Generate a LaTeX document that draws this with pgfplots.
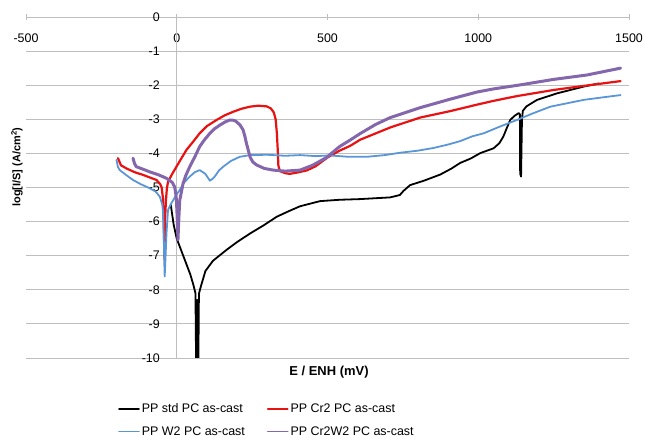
\documentclass[border=0pt]{standalone}
\usepackage{pgfplots}
\pgfplotsset{compat=1.18}
\usepackage{fontspec}
\setmainfont{Liberation Sans}
\definecolor{myred}{RGB}{232,18,18}
\definecolor{myblue}{RGB}{90,150,215}
\definecolor{mypurple}{RGB}{132,102,172}
\definecolor{gridgray}{RGB}{190,190,190}
\begin{document}
\begin{tikzpicture}
\path[use as bounding box] (0,0) rectangle (645bp,438bp);
\begin{axis}[
  at={(26bp,80bp)}, anchor=south west,
  scale only axis, width=603bp, height=341bp,
  xmin=-500, xmax=1500, ymin=-10, ymax=0,
  axis line style={draw=none},
  xtick={-500,0,500,1000,1500},
  xticklabels={-500,0,500,1000,1500},
  ytick={-10,-9,-8,-7,-6,-5,-4,-3,-2,-1,0},
  yticklabels={-10,-9,-8,-7,-6,-5,-4,-3,-2,-1,0},
  xtick pos=right, xticklabel pos=right,
  ytick pos=left,
  tick align=center, major tick length=6bp,
  xtick style={draw=gridgray, line width=0.8bp},
  ytick style={draw=none},
  xticklabel style={anchor=north, yshift=-20bp, inner sep=0pt, font=\fontsize{12.5}{14}\selectfont},
  yticklabel style={anchor=east, inner sep=0pt, xshift=137bp, font=\fontsize{12.5}{14}\selectfont},
  ymajorgrids, grid style={gridgray, line width=0.8bp},
  extra x ticks={0}, extra x tick labels={},
  extra x tick style={grid=major, major tick length=0pt},
  legend columns=2,
  legend cell align=left,
  legend style={draw=none, fill=none, at={(0.1526,-0.128)}, anchor=north west,
    font=\fontsize{12.5}{14}\selectfont, inner sep=0pt, row sep=8bp,
    /tikz/every even column/.append style={column sep=20bp}},
  legend image code/.code={\draw[#1, line width=1.6bp] (0bp,0bp) -- (20bp,0bp);},
  every axis plot/.append style={line join=round, line cap=round},
]
% PP std PC as-cast
\addplot[black, line width=1.8bp] coordinates {
(-20,-5.5) (-10,-6.1) (0,-6.5) (15,-6.85) (30,-7.2) (45,-7.55) (55,-7.85) (62,-8.1)
(63,-9) (64,-10) (65,-8.3) (66,-10) (67,-8.3) (68,-10) (69,-8.3) (70,-10) (71,-8.3)
(72,-10) (73,-8.5) (74,-8.1) (80,-7.9)
(95,-7.45) (120,-7.15) (165,-6.83) (200,-6.6) (243,-6.35) (290,-6.1) (331,-5.86)
(370,-5.7) (409,-5.55) (475,-5.4) (540,-5.36) (608,-5.34) (708,-5.29) (740,-5.22)
(752,-5.1) (774,-4.93) (820,-4.8) (874,-4.62) (910,-4.45) (940,-4.28) (975,-4.15)
(1007,-3.99) (1051,-3.85) (1070,-3.7) (1083,-3.51) (1095,-3.25) (1106,-3.02)
(1120,-2.9) (1134,-2.82) (1138,-2.85) (1139,-4.6) (1142,-4.68) (1145,-3.0)
(1148,-2.75) (1160,-2.62) (1195,-2.43) (1261,-2.24) (1350,-2.04) (1400,-1.95)
};
\addlegendentry{PP std PC as-cast}
% PP Cr2 PC as-cast
\addplot[myred, line width=2.2bp] coordinates {
(-195,-4.14) (-185,-4.35) (-167,-4.44) (-140,-4.55) (-112,-4.63) (-85,-4.72)
(-67,-4.78) (-55,-4.9) (-50,-5.0) (-46,-5.3) (-44,-5.8) (-42,-6.5) (-41,-7.1)
(-39,-6.0) (-36,-5.4) (-33,-5.05) (-29,-4.83) (-15,-4.6) (-1,-4.39) (15,-4.15)
(32,-3.9) (55,-3.65) (76,-3.41) (100,-3.2) (132,-3.02) (160,-2.88) (187,-2.78)
(215,-2.69) (243,-2.63) (270,-2.6) (298,-2.62) (312,-2.68) (322,-2.8) (328,-3.0)
(332,-3.4) (335,-3.9) (337,-4.35) (342,-4.52) (360,-4.58) (375,-4.6) (400,-4.56)
(431,-4.5) (460,-4.38) (500,-4.12) (540,-3.92) (575,-3.78) (608,-3.6) (708,-3.24)
(807,-2.95) (907,-2.76) (996,-2.57) (1050,-2.46) (1128,-2.32) (1250,-2.14)
(1350,-2.02) (1472,-1.88)
};
\addlegendentry{PP Cr2 PC as-cast}
% PP W2 PC as-cast
\addplot[myblue, line width=1.8bp] coordinates {
(-200,-4.19) (-195,-4.4) (-189,-4.49) (-170,-4.62) (-145,-4.78) (-120,-4.9)
(-90,-5.02) (-70,-5.12) (-56,-5.27) (-48,-5.5) (-45,-5.76) (-43,-6.5) (-41,-7.3)
(-40,-7.61) (-37,-7.0) (-34,-6.34) (-29,-5.66) (-18,-5.46) (0,-5.2) (10,-5.07)
(25,-4.85) (43,-4.68) (60,-4.55) (76,-4.49) (95,-4.6) (110,-4.8) (118,-4.75)
(126,-4.68) (140,-4.5) (154,-4.39) (180,-4.22) (209,-4.1) (243,-4.05) (300,-4.04)
(360,-4.07) (409,-4.05) (460,-4.08) (508,-4.06) (570,-4.1) (630,-4.1) (690,-4.05)
(741,-3.98) (800,-3.92) (852,-3.84) (900,-3.74) (940,-3.64) (980,-3.5) (1018,-3.41)
(1070,-3.22) (1128,-3.02) (1180,-2.83) (1239,-2.63) (1300,-2.52) (1350,-2.43)
(1410,-2.36) (1472,-2.29)
};
\addlegendentry{PP W2 PC as-cast}
% PP Cr2W2 PC as-cast
\addplot[mypurple, line width=3bp] coordinates {
(-145,-4.14) (-140,-4.3) (-134,-4.39) (-110,-4.47) (-90,-4.54) (-60,-4.63)
(-34,-4.73) (-15,-4.85) (-7,-4.98) (-3,-5.2) (-1,-5.37) (2,-6.0) (4,-6.54) (7,-5.9)
(10,-5.37) (21,-4.88) (30,-4.65) (43,-4.39) (60,-4.1) (76,-3.8) (92,-3.6)
(110,-3.41) (125,-3.28) (143,-3.17) (160,-3.08) (176,-3.02) (190,-3.03) (198,-3.07)
(210,-3.17) (220,-3.31) (226,-3.5) (231,-3.7) (237,-3.9) (243,-4.1) (252,-4.25)
(265,-4.34) (290,-4.44) (320,-4.49) (360,-4.52) (409,-4.49) (450,-4.35) (497,-4.12)
(540,-3.8) (575,-3.61) (608,-3.42) (660,-3.15) (708,-2.95) (807,-2.66) (907,-2.41)
(996,-2.2) (1050,-2.11) (1140,-1.99) (1250,-1.83) (1361,-1.7) (1472,-1.5)
};
\addlegendentry{PP Cr2W2 PC as-cast}
\end{axis}
\node[font=\bfseries\fontsize{13}{15}\selectfont] at (329bp,66bp) {E / ENH (mV)};
\node[rotate=90, font=\bfseries\fontsize{11}{13}\selectfont] at (17bp,271bp) {log[I/S] (A/cm\textsuperscript{2})};
\end{tikzpicture}
\end{document}
